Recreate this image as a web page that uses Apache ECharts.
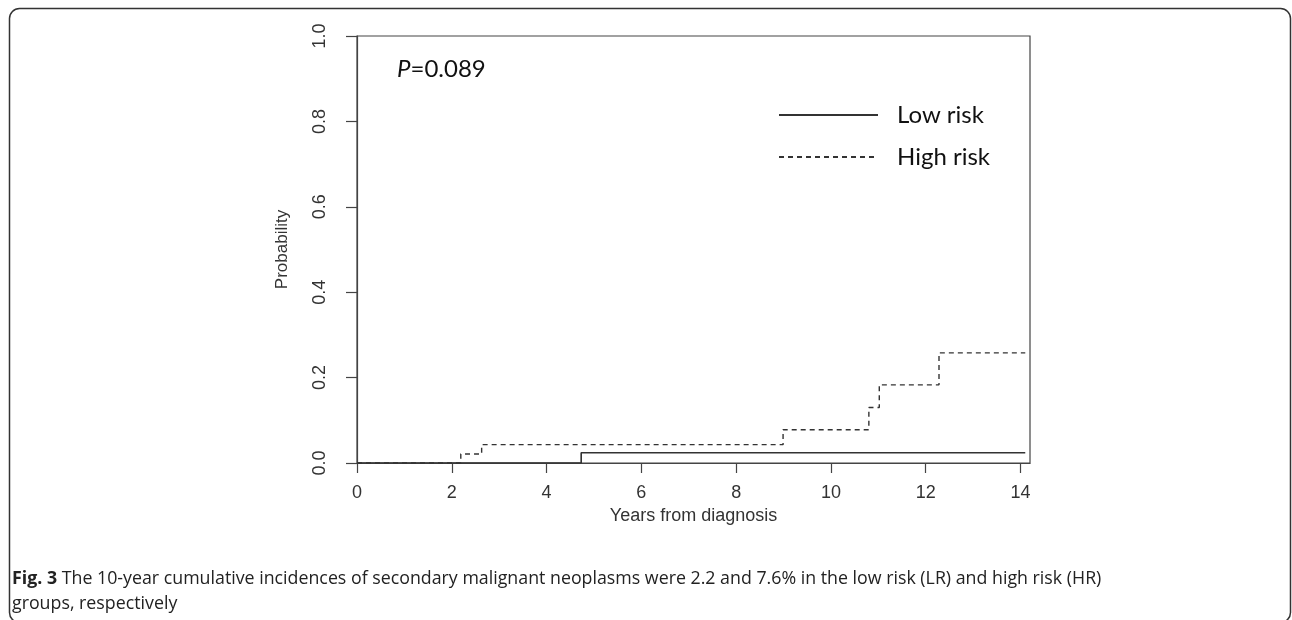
<!DOCTYPE html>
<html>
<head>
<meta charset="utf-8">
<script src="https://cdn.jsdelivr.net/npm/echarts@6/dist/echarts.min.js"></script>
<style>
  html, body { margin: 0; padding: 0; background: #fff; }
  #chart { width: 1292px; height: 620px; }
</style>
</head>
<body>
<div id="chart"></div>
<script>
// cumulative incidence
const lowX = [0, 4.73, 14.1];
const lowY = [0, 0.024, 0.024];
const highX = [0, 2.19, 2.63, 8.99, 10.8, 11.02, 12.28, 14.1];
const highY = [0, 0.021, 0.043, 0.078, 0.13, 0.183, 0.258, 0.258];
const xTicks = [0, 2, 4, 6, 8, 10, 12, 14];
const yTicks = [0, 0.2, 0.4, 0.6, 0.8, 1.0];
const seriesNames = ['Low risk', 'High risk'];
const pText = '0.089';
const caption = 'The 10-year cumulative incidences of secondary malignant neoplasms were 2.2 and 7.6% in the low risk (LR) and high risk (HR)\ngroups, respectively';

const axisFont = 'Liberation Sans';
const ink = '#444';

function pairs(xs, ys) {
    return xs.map((x, i) => [x, ys[i]]);
}

const chart = echarts.init(document.getElementById('chart'));

const option = {
    animation: false,
    grid: {
        left: 357, top: 36, width: 673, height: 427,
        show: true, borderColor: ink, borderWidth: 1.2
    },
    xAxis: {
        type: 'value', min: 0, max: 14.2,
        name: 'Years from diagnosis', nameLocation: 'middle', nameGap: 41,
        nameTextStyle: { fontFamily: axisFont, fontSize: 18, color: '#333' },
        axisLine: { show: true, lineStyle: { color: ink, width: 1.2 } },
        axisTick: { show: true, length: 10, customValues: xTicks, lineStyle: { color: ink, width: 1.2 } },
        axisLabel: { customValues: xTicks, margin: 21, fontFamily: axisFont, fontSize: 18, color: '#333' },
        splitLine: { show: false }
    },
    yAxis: {
        type: 'value', min: 0, max: 1, interval: 0.2,
        name: 'Probability', nameLocation: 'middle', nameGap: 66,
        nameTextStyle: { fontFamily: axisFont, fontSize: 17, color: '#333' },
        axisLine: { show: true, lineStyle: { color: ink, width: 1.2 } },
        axisTick: { show: true, length: 11, lineStyle: { color: ink, width: 1.2 } },
        axisLabel: {
            rotate: 90, margin: 28, fontFamily: axisFont, fontSize: 18, color: '#333',
            formatter: v => v.toFixed(1)
        },
        splitLine: { show: false }
    },
    legend: {
        orient: 'vertical', left: 773, top: 96,
        itemWidth: 99, itemHeight: 14, itemGap: 14,
        data: seriesNames,
        itemStyle: { opacity: 0 },
        textStyle: { fontFamily: 'Lato', fontSize: 24, color: '#111', lineHeight: 28, padding: [0, 0, 0, 14] },
        selectedMode: false
    },
    series: [
        {
            name: seriesNames[0], type: 'line', step: 'end', symbol: 'none',
            data: pairs(lowX, lowY),
            lineStyle: { color: '#333', width: 1.6 },
            itemStyle: { color: '#333' },
            emphasis: { disabled: true }
        },
        {
            name: seriesNames[1], type: 'line', step: 'end', symbol: 'none',
            data: pairs(highX, highY),
            lineStyle: { color: '#333', width: 1.4, type: [5, 4] },
            itemStyle: { color: '#333' },
            emphasis: { disabled: true }
        }
    ],
    graphic: [
        {
            type: 'rect', silent: true,
            shape: { x: 9.5, y: 8.5, width: 1281, height: 614, r: 10 },
            style: { fill: 'none', stroke: '#333', lineWidth: 1.5 }
        },
        {
            type: 'text', left: 397, top: 57,
            style: {
                text: '{i|P}=' + pText,
                font: '24px Lato', fill: '#111',
                rich: { i: { fontStyle: 'italic', fontFamily: 'Lato', fontSize: 24, fill: '#111' } }
            }
        },
        {
            type: 'text', left: 12, top: 566,
            style: {
                text: '{b|Fig. 3} ' + caption,
                font: '17.8px "Open Sans"', fill: '#222', lineHeight: 25,
                rich: { b: { fontWeight: 'bold', fontFamily: 'Open Sans', fontSize: 17.8, fill: '#222', lineHeight: 25 } }
            }
        }
    ]
};

chart.setOption(option);
</script>
</body>
</html>
